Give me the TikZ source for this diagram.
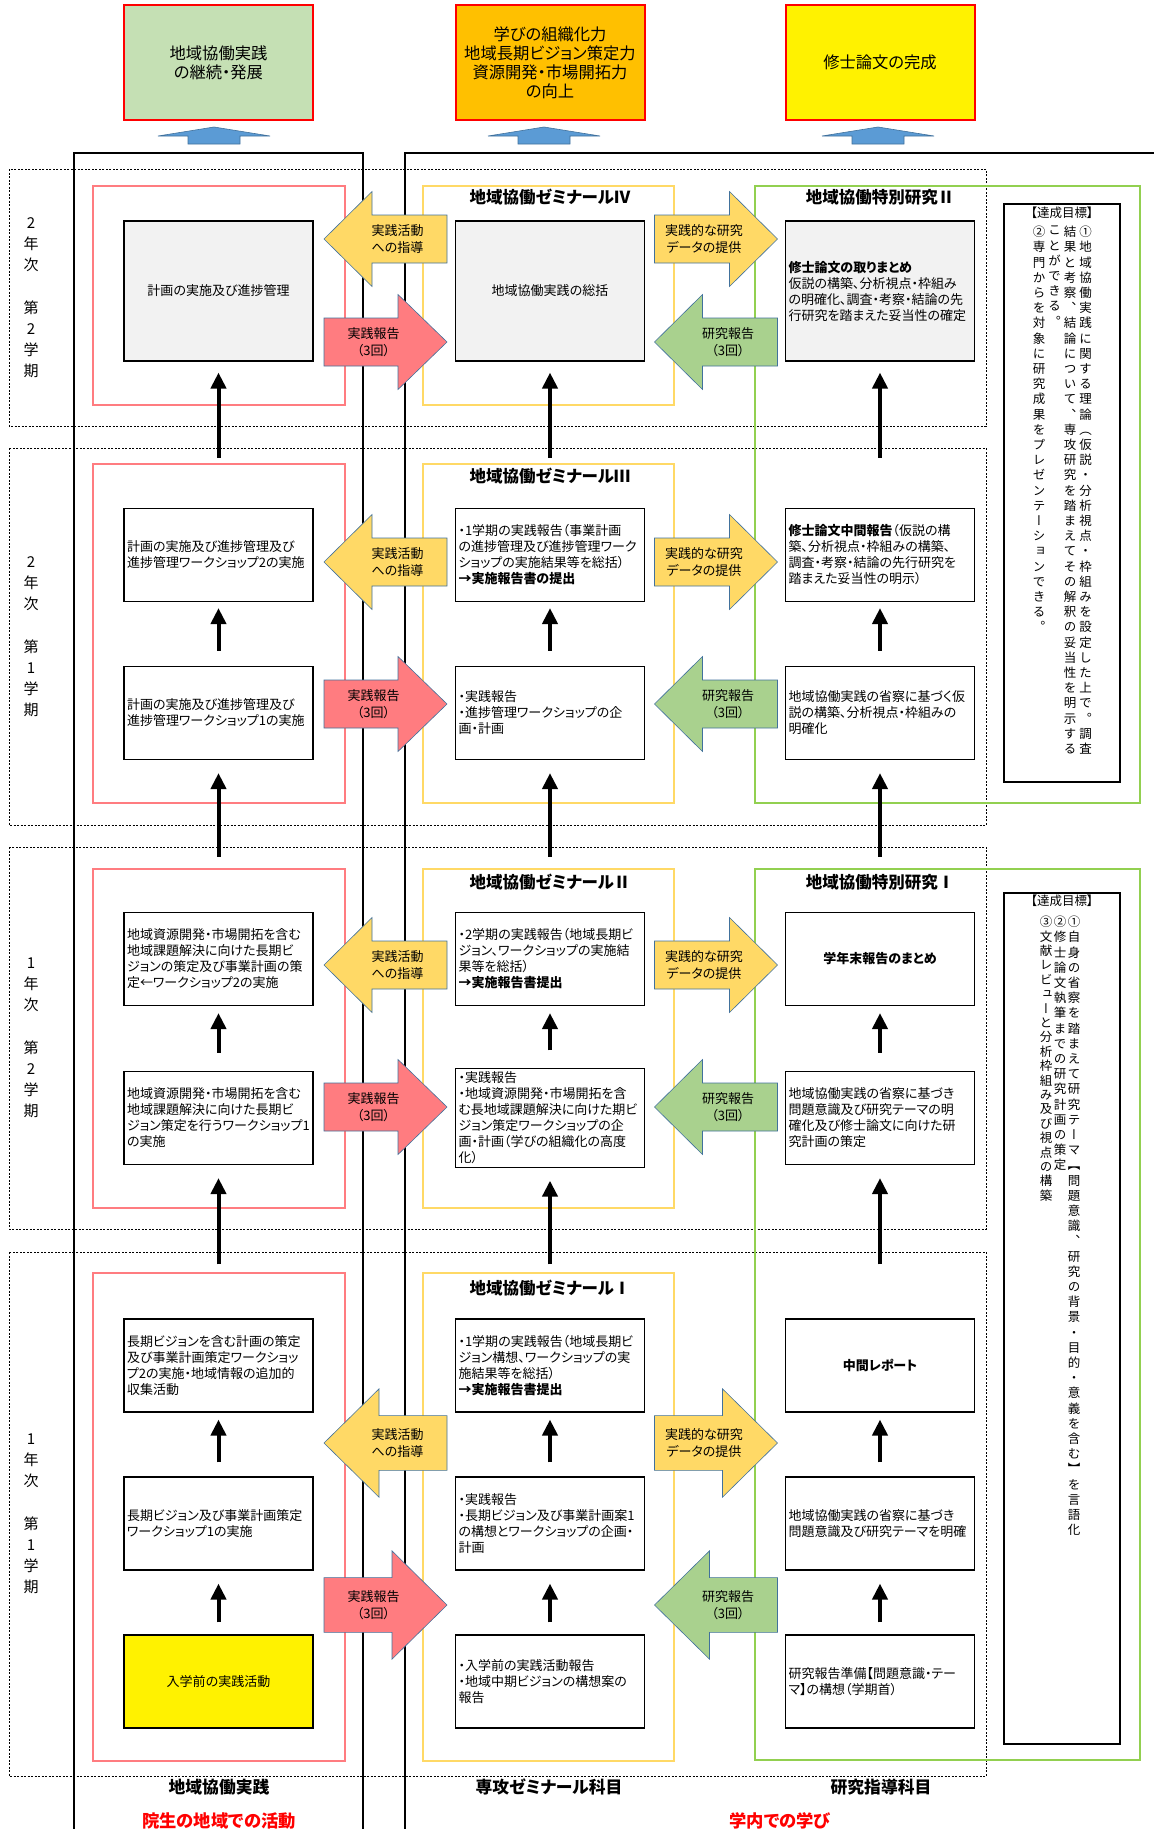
\documentclass[tikz,border=0pt]{standalone}
\usepackage{fontspec}
\setmainfont[RawFeature=+palt]{Noto Sans CJK JP}
\newfontfamily\tatefont[RawFeature=+vert]{Noto Sans CJK JP}
\usetikzlibrary{arrows.meta}

\definecolor{pinkline}{HTML}{FF7C80}
\definecolor{yellowline}{HTML}{FFD966}
\definecolor{greenline}{HTML}{92D050}
\definecolor{arrowgreen}{HTML}{A9D18E}
\definecolor{arrowedge}{HTML}{41719C}
\definecolor{bluearrow}{HTML}{5B9BD5}
\definecolor{topgreen}{HTML}{C5E0B4}
\definecolor{toporange}{HTML}{FFC000}
\definecolor{graybox}{HTML}{F2F2F2}

% one character per line, for the vertical goal texts
\ExplSyntaxOn
\NewDocumentCommand\tatechars{m}{\tl_map_inline:nn{#1}{\noindent##1\par}}
\ExplSyntaxOff

\tikzset{
  pics/fatarrow/.style n args={4}{
    code={
      \draw[fatedge, fill=#2, xscale=#1] (-61.5,-24) -- (61.5-#3,-24) -- (61.5-#3,-47.5) -- (61.5,0)
        -- (61.5-#3,47.5) -- (61.5-#3,24) -- (-61.5,24) -- cycle;
      \node[arrowlabel] (-text) at ({-12*#1},0) {#4};
    }
  }
}

\begin{document}
\begin{tikzpicture}[x=1pt,y=-1pt,
  every node/.style={inner sep=0pt},
  frame/.style={line width=1.6pt},
  semester/.style={draw, dash pattern=on 2pt off 1.5pt, line width=0.7pt},
  jiscol/.style={draw=pinkline, line width=2pt},
  zemicol/.style={draw=yellowline, line width=2pt},
  kencol/.style={draw=greenline, line width=2pt},
  stepbox/.style={draw, line width=1.1pt, fill=white, text width=183pt, inner sep=3pt,
    minimum height=93pt, align=left, font=\fontsize{13}{16}\selectfont},
  midbox/.style={stepbox, align=center},
  coltitle/.style={font=\bfseries\fontsize{16.5}{20}\selectfont},
  semlabel/.style={align=center, font=\fontsize{15}{21}\selectfont},
  goalbox/.style={draw, line width=1.2pt, minimum width=116pt},
  goalhead/.style={font=\fontsize{12.5}{15}\selectfont},
  goaltext/.style={text width=14pt, align=center, anchor=north, font=\tatefont\fontsize{12.5}{15.2}\selectfont},
  arrowlabel/.style={align=center, font=\fontsize{13}{16.7}\selectfont},
  fatedge/.style={draw=arrowedge, line width=0.6pt},
  uparrow/.style={line width=4pt, -{Triangle[width=15pt,length=16pt]}},
  result/.style={draw=red, line width=2pt, minimum width=189pt, minimum height=115pt,
    align=center, font=\fontsize{16.3}{19}\selectfont},
  collabel/.style={font=\bfseries\fontsize{16.8}{20}\selectfont},
  redlabel/.style={collabel, text=red, font=\bfseries\fontsize{17.3}{20}\selectfont}]

\useasboundingbox (0,0) rectangle (1154,1829);

% semesters
\draw[semester] (9,169) rectangle (986,426);
\draw[semester] (9,448) rectangle (986,825);
\draw[semester] (9,847) rectangle (986,1229);
\draw[semester] (9,1252) rectangle (986,1776);

\node[semlabel] (sem22) at (31,297.5) {2\\年\\次\\[22pt]第\\2\\学\\期};
\node[semlabel] (sem21) at (31,636.5) {2\\年\\次\\[22pt]第\\1\\学\\期};
\node[semlabel] (sem12) at (31,1038) {1\\年\\次\\[22pt]第\\2\\学\\期};
\node[semlabel] (sem11) at (31,1514) {1\\年\\次\\[22pt]第\\1\\学\\期};

% columns
\foreach \ytop/\ybot in {186/405, 464/803, 869/1208, 1273/1761} {
  \draw[jiscol] (93,\ytop) rectangle (345,\ybot);
  \draw[zemicol] (423,\ytop) rectangle (674,\ybot);
}
\draw[kencol] (755,186) rectangle (1140,803);
\draw[kencol] (755,869) rectangle (1140,1760);

% outer frames
\draw[frame] (74,1829) -- (74,153) -- (363,153) -- (363,1829);
\draw[frame] (405,1829) -- (405,153) -- (1154,153);

\node[coltitle] (zt22) at (550,197) {地域協働ゼミナールⅣ};
\node[coltitle] (zt21) at (550,476) {地域協働ゼミナールⅢ};
\node[coltitle] (zt12) at (550,882) {地域協働ゼミナールⅡ};
\node[coltitle] (zt11) at (550,1288) {地域協働ゼミナールⅠ};
\node[coltitle] (kt2) at (880,197) {地域協働特別研究Ⅱ};
\node[coltitle] (kt1) at (880,882) {地域協働特別研究Ⅰ};

% 2nd year, 2nd semester
\node[midbox, minimum height=140pt, fill=graybox] (jis22) at (218.5,291) {計画の実施及び進捗管理};
\node[midbox, minimum height=140pt, fill=graybox] (zemi22) at (550,291) {地域協働実践の総括};
\node[stepbox, minimum height=140pt, fill=graybox] (ken22) at (880,291)
  {{\bfseries 修士論文の取りまとめ}\\仮説の構築、分析視点・枠組み\\の明確化、調査・考察・結論の先\\行研究を踏まえた妥当性の確定};

% 2nd year, 1st semester
\node[stepbox] (jis21u) at (218.5,555) {計画の実施及び進捗管理及び\\進捗管理ワークショップ2の実施};
\node[stepbox] (zemi21u) at (550,555)
  {・1学期の実践報告（事業計画\\の進捗管理及び進捗管理ワーク\\ショップの実施結果等を総括）\\{\bfseries →実施報告書の提出}};
\node[stepbox] (ken21u) at (880,555)
  {{\bfseries 修士論文中間報告}（仮説の構\\築、分析視点・枠組みの構築、\\調査・考察・結論の先行研究を\\踏まえた妥当性の明示）};
\node[stepbox] (jis21l) at (218.5,713) {計画の実施及び進捗管理及び\\進捗管理ワークショップ1の実施};
\node[stepbox] (zemi21l) at (550,713) {・実践報告\\・進捗管理ワークショップの企\\画・計画};
\node[stepbox] (ken21l) at (880,713) {地域協働実践の省察に基づく仮\\説の構築、分析視点・枠組みの\\明確化};

% 1st year, 2nd semester
\node[stepbox] (jis12u) at (218.5,959)
  {地域資源開発・市場開拓を含む\\地域課題解決に向けた長期ビ\\ジョンの策定及び事業計画の策\\定←ワークショップ2の実施};
\node[stepbox] (zemi12u) at (550,959)
  {・2学期の実践報告（地域長期ビ\\ジョン、ワークショップの実施結\\果等を総括）\\{\bfseries →実施報告書提出}};
\node[midbox] (ken12u) at (880,959) {\bfseries 学年末報告のまとめ};
\node[stepbox] (jis12l) at (218.5,1118)
  {地域資源開発・市場開拓を含む\\地域課題解決に向けた長期ビ\\ジョン策定を行うワークショップ1\\の実施};
\node[stepbox] (zemi12l) at (550,1118)
  {・実践報告\\・地域資源開発・市場開拓を含\\む長地域課題解決に向けた期ビ\\ジョン策定ワークショップの企\\画・計画（学びの組織化の高度\\化）};
\node[stepbox] (ken12l) at (880,1118)
  {地域協働実践の省察に基づき\\問題意識及び研究テーマの明\\確化及び修士論文に向けた研\\究計画の策定};

% 1st year, 1st semester
\node[stepbox] (jis11u) at (218.5,1365.5)
  {長期ビジョンを含む計画の策定\\及び事業計画策定ワークショッ\\プ2の実施・地域情報の追加的\\収集活動};
\node[stepbox] (zemi11u) at (550,1365.5)
  {・1学期の実践報告（地域長期ビ\\ジョン構想、ワークショップの実\\施結果等を総括）\\{\bfseries →実施報告書提出}};
\node[midbox] (ken11u) at (880,1365.5) {\bfseries 中間レポート};
\node[stepbox] (jis11m) at (218.5,1523.5) {長期ビジョン及び事業計画策定\\ワークショップ1の実施};
\node[stepbox] (zemi11m) at (550,1523.5)
  {・実践報告\\・長期ビジョン及び事業計画案1\\の構想とワークショップの企画・\\計画};
\node[stepbox] (ken11m) at (880,1523.5) {地域協働実践の省察に基づき\\問題意識及び研究テーマを明確};
\node[midbox, fill=yellow] (jis11l) at (218.5,1681.5) {入学前の実践活動};
\node[stepbox] (zemi11l) at (550,1681.5) {・入学前の実践活動報告\\・地域中期ビジョンの構想案の\\報告};
\node[stepbox] (ken11l) at (880,1681.5) {研究報告準備【問題意識・テー\\マ】の構想（学期首）};

% upward flow
\foreach \col in {jis,zemi,ken} {
  \draw[uparrow, shorten <=50pt, shorten >=11pt] (\col21u) -- (\col22);
  \draw[uparrow, shorten <=15pt, shorten >=6pt] (\col21l) -- (\col21u);
  \draw[uparrow, shorten <=55pt, shorten >=13pt] (\col12u) -- (\col21l);
  \draw[uparrow, shorten <=18pt, shorten >=7pt] (\col12l) -- (\col12u);
  \draw[uparrow, shorten <=54pt, shorten >=13pt] (\col11u) -- (\col12l);
  \draw[uparrow, shorten <=14pt, shorten >=7pt] (\col11m) -- (\col11u);
  \draw[uparrow, shorten <=12pt, shorten >=13pt] (\col11l) -- (\col11m);
}

% exchanges between the columns
\foreach \s/\yg/\yr in {22/239/342, 21/562/704, 12/965/1107} {
  \pic (guide\s) at (385.5,\yg) {fatarrow={-1}{yellowline}{48}{実践活動\\への指導}};
  \pic (report\s) at (385.5,\yr) {fatarrow={1}{pinkline}{49}{実践報告\\（3回）}};
  \pic (data\s) at (716,\yg) {fatarrow={1}{yellowline}{48}{実践的な研究\\データの提供}};
  \pic (resrep\s) at (716,\yr) {fatarrow={-1}{arrowgreen}{48}{研究報告\\（3回）}};
}
\pic[yscale=1.14] (guide11) at (385.5,1443) {fatarrow={-1}{yellowline}{55}{実践活動\\への指導}};
\pic[yscale=1.14] (report11) at (385.5,1605) {fatarrow={1}{pinkline}{55}{実践報告\\（3回）}};
\pic[yscale=1.14] (data11) at (716,1443) {fatarrow={1}{yellowline}{55}{実践的な研究\\データの提供}};
\pic[yscale=1.14] (resrep11) at (716,1605) {fatarrow={-1}{arrowgreen}{55}{研究報告\\（3回）}};

% goals
\node[goalbox, minimum height=578pt] (goal2) at (1062,493) {};
\node[goalhead] (goal2head) at (1062,213) {【達成目標】};
\node[goaltext] (goal2a) at (1085.5,226) {\tatechars{①地域協働実践に関する理論（仮説・分析視点・枠組みを設定した上で。調査}};
\node[goaltext] (goal2b) at (1070,226) {\tatechars{結果と考察、結論について、専攻研究を踏まえてその解釈の妥当性を明示する}};
\node[goaltext] (goal2c) at (1054.5,226) {\tatechars{ことができる。}};
\node[goaltext] (goal2d) at (1039,226) {\tatechars{②専門からを対象に研究成果をプレゼンテーションできる。}};

\node[goalbox, minimum height=851pt] (goal1) at (1062,1318.5) {};
\node[goalhead] (goal1head) at (1062,901) {【達成目標】};
\node[goaltext] (goal1a) at (1074,916) {\tatechars{①自身の省察を踏まえて研究テーマ【問題意識、研究の背景・目的・意義を含む】を言語化}};
\node[goaltext] (goal1b) at (1060,916) {\tatechars{②修士論文執筆までの研究計画の策定}};
\node[goaltext, font=\tatefont\fontsize{12.5}{14.4}\selectfont] (goal1c) at (1046,916) {\tatechars{③文献レビューと分析枠組み及び視点の構築}};

% outcomes
\node[result, fill=topgreen] (outA) at (218.5,62.5) {地域協働実践\\の継続・発展};
\node[result, fill=toporange] (outB) at (550,62.5) {学びの組織化力\\地域長期ビジョン策定力\\資源開発・市場開拓力\\の向上};
\node[result, fill=yellow] (outC) at (880,62.5) {修士論文の完成};
\foreach \cx in {214,544,878}
  \draw[fatedge, fill=bluearrow] (\cx-26,144) -- (\cx-26,136) -- (\cx-56,136) -- (\cx,127)
    -- (\cx+56,136) -- (\cx+26,136) -- (\cx+26,144) -- cycle;

% footer
\node[collabel] (lab1) at (219,1787) {地域協働実践};
\node[collabel] (lab2) at (549,1787) {専攻ゼミナール科目};
\node[collabel] (lab3) at (881,1787) {研究指導科目};
\node[redlabel] (lab4) at (219,1821) {院生の地域での活動};
\node[redlabel] (lab5) at (780,1821) {学内での学び};

\end{tikzpicture}
\end{document}
